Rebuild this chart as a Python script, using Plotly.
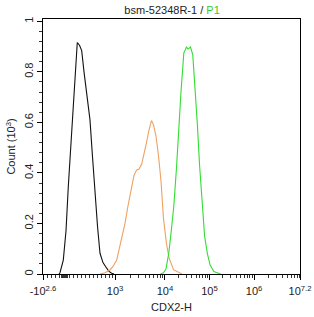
import numpy as np
import plotly.graph_objects as go

# x values are in display channel units (0-1024 biexponential display scale)
black_x = [63.7, 67.7, 80.9, 91.6, 100.8, 111.6, 120.7, 129.5, 136.6, 145.4, 154.2, 163.4,
           175.3, 187.2, 197.2, 207.2, 217.1, 227.1, 239.0, 253.8, 263.0, 273.7, 282.9]
black_y = [0, 0.005, 0.055, 0.17, 0.346, 0.52, 0.676, 0.82, 0.916, 0.905, 0.884, 0.80,
           0.71, 0.61, 0.465, 0.32, 0.19, 0.082, 0.045, 0.023, 0.01, 0.003, 0]

orange_x = [227.1, 247.0, 266.9, 278.9, 293.6, 306.7, 318.7, 326.7, 338.7, 353.4, 362.6, 373.3,
            382.5, 393.3, 402.4, 412.4, 422.4, 432.3, 440.3, 450.3, 460.0, 470.0, 480.0, 492.0,
            502.0, 520.0, 553.8]
orange_y = [0, 0.005, 0.016, 0.03, 0.055, 0.11, 0.17, 0.20, 0.27, 0.345, 0.39, 0.412,
            0.415, 0.435, 0.47, 0.52, 0.57, 0.607, 0.59, 0.545, 0.47, 0.37, 0.22, 0.12,
            0.065, 0.017, 0]

green_x = [468.1, 480.0, 490.0, 501.2, 509.9, 521.1, 531.9, 541.0, 549.8, 561.0, 571.7, 577.7,
           582.5, 587.7, 596.8, 605.6, 614.8, 623.9, 634.7, 643.9, 654.6, 665.8, 681.0, 707.7]
green_y = [0, 0.005, 0.02, 0.083, 0.16, 0.267, 0.42, 0.59, 0.72, 0.874, 0.898, 0.89,
           0.893, 0.898, 0.867, 0.75, 0.596, 0.43, 0.267, 0.15, 0.083, 0.035, 0.01, 0]

x_tick_text = ["-10<sup>2.6</sup>", "10<sup>3</sup>", "10<sup>4</sup>", "10<sup>5</sup>",
               "10<sup>6</sup>", "10<sup>7.2</sup>"]
x_tick_pos = [0, 287, 486, 663, 841, 1024]
y_tick_vals = [0, 0.2, 0.4, 0.6, 0.8, 1]
y_tick_text = ["0", "0.2", "0.4", "0.6", "0.8", "1"]

# minor x ticks: linear region near zero + log minors per decade
minor_x = [16, 32, 48, 64, 72, 76, 80, 84, 88, 92, 96, 104, 120, 136, 152, 168, 184, 200,
           216, 232, 248, 264, 276]
dec = [(287, 486), (486, 663), (663, 841), (841, 1031)]
for a, b in dec:
    for k in range(2, 10):
        p = a + (b - a) * np.log10(k)
        if p < 1024:
            minor_x.append(round(p, 1))

fig = go.Figure()
fig.add_trace(go.Scatter(x=black_x, y=black_y, mode="lines",
                         line=dict(color="#111111", width=1.1), showlegend=False))
fig.add_trace(go.Scatter(x=orange_x, y=orange_y, mode="lines",
                         line=dict(color="#f0a060", width=1.1), showlegend=False))
fig.add_trace(go.Scatter(x=green_x, y=green_y, mode="lines",
                         line=dict(color="#33dd33", width=1.1), showlegend=False))

font = "Liberation Sans, Arial, sans-serif"
fig.update_layout(
    width=314, height=317,
    margin=dict(l=43, r=14, t=19, b=43),
    paper_bgcolor="white", plot_bgcolor="white",
    font=dict(family=font, size=11, color="#222222"),
    title=dict(text="bsm-52348R-1 / <span style='color:#33cc33'>P1</span>",
               x=0.548, xanchor="center", y=0.967, yanchor="middle",
               font=dict(size=11, color="#222222")),
)
fig.update_xaxes(
    range=[0, 1024], showgrid=False, zeroline=False, automargin=False,
    showline=True, linecolor="black", linewidth=1, mirror=True,
    tickmode="array", tickvals=x_tick_pos, ticktext=x_tick_text,
    ticks="outside", ticklen=5, tickcolor="black", tickwidth=1,
    ticklabelstandoff=2,
    minor=dict(tickmode="array", tickvals=minor_x, ticks="outside", ticklen=3,
               tickcolor="#333333", tickwidth=1),
    title=dict(text="CDX2-H", font=dict(size=11), standoff=7),
    tickfont=dict(size=11),
)
fig.update_yaxes(
    range=[0, 1.009], showgrid=False, zeroline=False, automargin=False,
    showline=True, linecolor="black", linewidth=1, mirror=True,
    tickmode="array", tickvals=y_tick_vals, ticktext=y_tick_text,
    ticks="outside", ticklen=5, tickcolor="black", tickwidth=1,
    tickangle=-90,
    minor=dict(dtick=0.04, tick0=0, ticks="outside", ticklen=3,
               tickcolor="#333333", tickwidth=1),
    title=dict(text="Count (10<sup>3</sup>)", font=dict(size=11), standoff=4),
    tickfont=dict(size=11),
)
fig.write_html("out.html")
